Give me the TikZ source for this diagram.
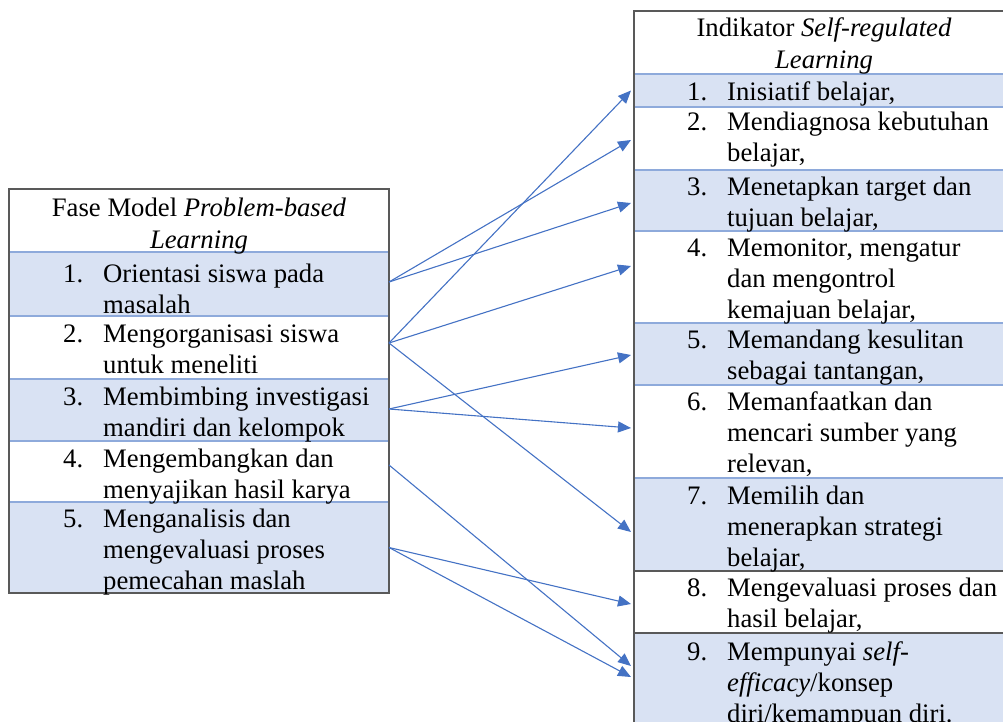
\documentclass[tikz,border=0pt]{standalone}
\usepackage{fontspec}
\setmainfont{Liberation Serif}
\usetikzlibrary{arrows.meta}
\definecolor{shade}{HTML}{D9E2F3}
\definecolor{sepc}{HTML}{8EAADB}
\definecolor{bord}{HTML}{595959}
\definecolor{arrc}{HTML}{4472C4}
\newcommand{\rs}{\rule[-9pt]{0pt}{31pt}}
\newcommand{\nb}[1]{\makebox[40pt][l]{#1}}
\newcommand{\ind}{\hspace*{40pt}}
\begin{document}
\begin{tikzpicture}[x=1pt,y=-1pt,
 cell/.style={anchor=north west, inner sep=0pt, outer sep=0pt, draw=none, minimum width=380pt},
 txt/.style={anchor=north west, inner sep=0pt, align=left, font=\fontsize{26.7}{31}\selectfont},
 htxt/.style={anchor=north, inner sep=0pt, align=center, font=\fontsize{26.7}{29.5}\selectfont},
 sep/.style={draw=sepc, line width=1.5pt},
 dsep/.style={draw=bord, line width=1.6pt},
 arr/.style={draw=arrc, line width=1.1pt, -{Triangle[length=13pt,width=11pt]}}]
\useasboundingbox (0,0) rectangle (1003,722);
% left table cells
\node[cell, fill=white, minimum height=63pt] (l0) at (9,189) {};
\node[cell, fill=shade, minimum height=64pt] (l1) at (9,252) {};
\node[cell, fill=white, minimum height=63pt] (l2) at (9,316) {};
\node[cell, fill=shade, minimum height=62pt] (l3) at (9,379) {};
\node[cell, fill=white, minimum height=61pt] (l4) at (9,441) {};
\node[cell, fill=shade, minimum height=91pt] (l5) at (9,502) {};
% right table cells
\node[cell, fill=white, minimum height=63pt] (r0) at (634,11) {};
\node[cell, fill=shade, minimum height=33pt] (r1) at (634,74) {};
\node[cell, fill=white, minimum height=63pt] (r2) at (634,107) {};
\node[cell, fill=shade, minimum height=61pt] (r3) at (634,170) {};
\node[cell, fill=white, minimum height=92pt] (r4) at (634,231) {};
\node[cell, fill=shade, minimum height=62pt] (r5) at (634,323) {};
\node[cell, fill=white, minimum height=93pt] (r6) at (634,385) {};
\node[cell, fill=shade, minimum height=93pt] (r7) at (634,478) {};
\node[cell, fill=white, minimum height=62pt] (r8) at (634,571) {};
\node[cell, fill=shade, minimum height=100pt] (r9) at (634,633) {};
% separators and borders
\foreach \n in {l1,l2,l3,l4,l5,r1,r2,r3,r4,r5,r6,r7}{\draw[sep] (\n.north west) -- (\n.north east);}
\draw[dsep] (r8.north west) -- (r8.north east);
\draw[dsep] (r9.north west) -- (r9.north east);
\draw[dsep] (l0.north west) rectangle (l5.south east);
\draw[dsep] (r9.south west) -- (r0.north west) -- (r0.north east);
% left texts
\node[htxt] (l0t) at (199,194) {\rs Fase Model \textit{Problem-based}\\\rs\textit{Learning}};
\node[txt] (l1t) at (63,260) {\rs\nb{1.}Orientasi siswa pada\\\rs\ind masalah};
\node[txt] (l2t) at (63,320) {\rs\nb{2.}Mengorganisasi siswa\\\rs\ind untuk meneliti};
\node[txt] (l3t) at (63,383) {\rs\nb{3.}Membimbing investigasi\\\rs\ind mandiri dan kelompok};
\node[txt] (l4t) at (63,445) {\rs\nb{4.}Mengembangkan dan\\\rs\ind menyajikan hasil karya};
\node[txt] (l5t) at (63,505) {\rs\nb{5.}Menganalisis dan\\\rs\ind mengevaluasi proses\\\rs\ind pemecahan maslah};
% right texts
\node[htxt] (r0t) at (824,14) {\rs Indikator \textit{Self-regulated}\\\rs\textit{Learning}};
\node[txt] (r1t) at (687,78) {\rs\nb{1.}Inisiatif belajar,};
\node[txt] (r2t) at (687,108) {\rs\nb{2.}Mendiagnosa kebutuhan\\\rs\ind belajar,};
\node[txt] (r3t) at (687,173) {\rs\nb{3.}Menetapkan target dan\\\rs\ind tujuan belajar,};
\node[txt] (r4t) at (687,234) {\rs\nb{4.}Memonitor, mengatur\\\rs\ind dan mengontrol\\\rs\ind kemajuan belajar,};
\node[txt] (r5t) at (687,326) {\rs\nb{5.}Memandang kesulitan\\\rs\ind sebagai tantangan,};
\node[txt] (r6t) at (687,388) {\rs\nb{6.}Memanfaatkan dan\\\rs\ind mencari sumber yang\\\rs\ind relevan,};
\node[txt] (r7t) at (687,482) {\rs\nb{7.}Memilih dan\\\rs\ind menerapkan strategi\\\rs\ind belajar,};
\node[txt] (r8t) at (687,574) {\rs\nb{8.}Mengevaluasi proses dan\\\rs\ind hasil belajar,};
\node[txt] (r9t) at (687,638) {\rs\nb{9.}Mempunyai \textit{self-}\\\rs\ind\textit{efficacy}/konsep\\\rs\ind diri/kemampuan diri.};
% arrows
\draw[arr] ([yshift=4.5pt]l2.east) -- ([xshift=-3pt]r1.west);
\draw[arr] ([yshift=2pt]l1.east) -- ([xshift=-3pt,yshift=-1.5pt]r2.west);
\draw[arr] ([yshift=2pt]l1.east) -- ([xshift=-3pt,yshift=-2.5pt]r3.west);
\draw[arr] ([yshift=4.5pt]l2.east) -- ([xshift=-3pt,yshift=11pt]r4.west);
\draw[arr] ([yshift=1pt]l3.east) -- ([xshift=-3pt,yshift=-1pt]r5.west);
\draw[arr] ([yshift=1pt]l3.east) -- ([xshift=-3pt,yshift=3.5pt]r6.west);
\draw[arr] ([yshift=4.5pt]l2.east) -- ([xshift=-3pt,yshift=-7.5pt]r7.west);
\draw[arr] ([yshift=6.5pt]l4.east) -- ([xshift=-3pt,yshift=17pt]r9.west);
\draw[arr] (l5.east) -- ([xshift=-3pt,yshift=-2pt]r8.west);
\draw[arr] (l5.east) -- ([xshift=-3pt,yshift=6pt]r9.west);
\end{tikzpicture}
\end{document}
